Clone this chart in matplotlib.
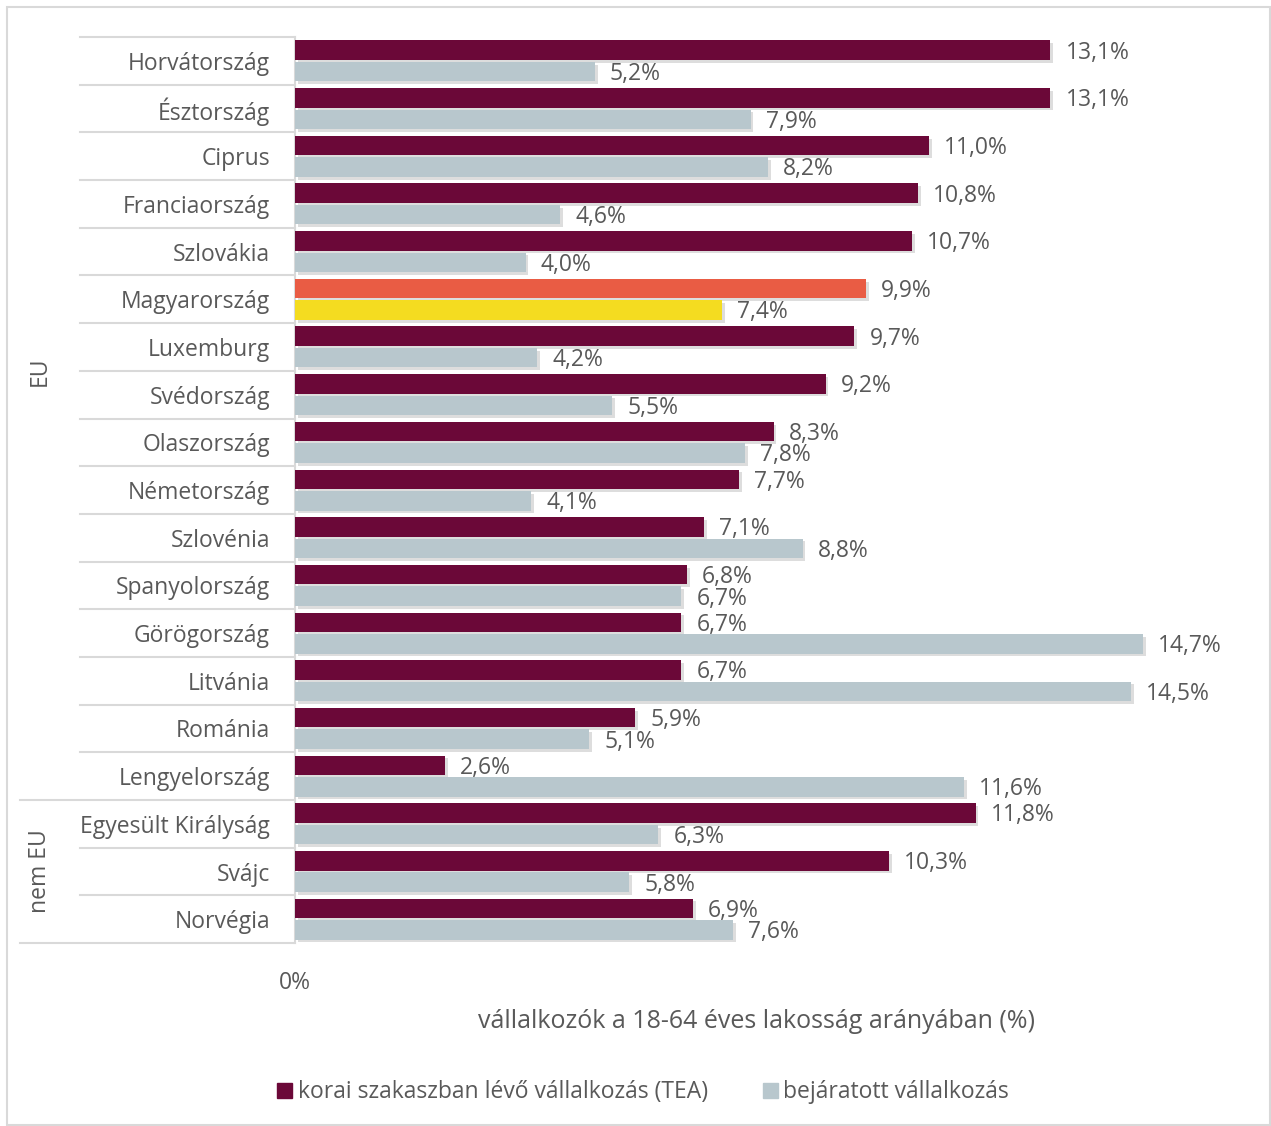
"""Korai szakaszban lévő és bejáratott vállalkozások aránya országonként."""
import matplotlib.pyplot as plt
import matplotlib.patheffects as pe
from matplotlib.patches import Rectangle

# Adatok (felülről lefelé)
countries = ['Horvátország', 'Észtország', 'Ciprus', 'Franciaország',
             'Szlovákia', 'Magyarország', 'Luxemburg', 'Svédország',
             'Olaszország', 'Németország', 'Szlovénia', 'Spanyolország',
             'Görögország', 'Litvánia', 'Románia', 'Lengyelország',
             'Egyesült Királyság', 'Svájc', 'Norvégia']
tea = [13.1, 13.1, 11.0, 10.8, 10.7, 9.9, 9.7, 9.2, 8.3, 7.7, 7.1, 6.8,
       6.7, 6.7, 5.9, 2.6, 11.8, 10.3, 6.9]
established = [5.2, 7.9, 8.2, 4.6, 4.0, 7.4, 4.2, 5.5, 7.8, 4.1, 8.8, 6.7,
               14.7, 14.5, 5.1, 11.6, 6.3, 5.8, 7.6]
groups = [('EU', 0, 15), ('nem EU', 16, 18)]
highlight = 'Magyarország'

series_names = ['korai szakaszban lévő vállalkozás (TEA)',
                'bejáratott vállalkozás']

PURPLE = '#6B0838'
GREY = '#B8C7CD'
ORANGE = '#E95C44'
YELLOW = '#F4DC20'
TEXT = '#595959'
LINE = '#D9D9D9'
FS = 16.5

plt.rcParams['font.family'] = ['Open Sans', 'DejaVu Sans']

fig = plt.figure(figsize=(12.71, 11.26), dpi=100)
ax = fig.add_axes([0.2321, 0.1625, 0.726, 0.8046])

shadow = [pe.SimplePatchShadow(offset=(2, -2), shadow_rgbFace='#909090',
                               alpha=0.3), pe.Normal()]

h = 0.41
for i, name in enumerate(countries):
    c1 = ORANGE if name == highlight else PURPLE
    c2 = YELLOW if name == highlight else GREY
    b1 = ax.barh(i - 0.225, tea[i], height=h, color=c1, zorder=3)
    b2 = ax.barh(i + 0.225, established[i], height=h, color=c2, zorder=3)
    for b in (b1[0], b2[0]):
        b.set_path_effects(shadow)
    ax.text(tea[i] + 0.26, i - 0.175, f'{tea[i]:.1f}%'.replace('.', ','),
            va='center', ha='left', fontsize=FS, color=TEXT)
    ax.text(established[i] + 0.26, i + 0.275,
            f'{established[i]:.1f}%'.replace('.', ','),
            va='center', ha='left', fontsize=FS, color=TEXT)

ax.set_ylim(len(countries) - 0.5, -0.5)
ax.set_xlim(0, 16)
ax.set_yticks(range(len(countries)))
ax.set_yticklabels(countries, fontsize=FS, color=TEXT)
ax.tick_params(axis='y', length=0, pad=18)
ax.set_xticks([0])
ax.set_xticklabels(['0%'], fontsize=FS, color=TEXT)
ax.tick_params(axis='x', length=0, pad=20)
ax.set_xlabel('vállalkozók a 18-64 éves lakosság arányában (%)',
              fontsize=18, color=TEXT, labelpad=10)

for side in ('top', 'right', 'bottom'):
    ax.spines[side].set_visible(False)
ax.spines['left'].set_color(LINE)
ax.spines['left'].set_linewidth(1.5)

# Kategória-elválasztó vonalak a bal oldalon
tr = ax.get_yaxis_transform()
x_inner = (80 - 295) / 923
x_outer = (20 - 295) / 923
ax.plot([x_inner, 0], [-0.5, -0.5], transform=tr, clip_on=False,
        color=LINE, lw=1.5)
for name, start, end in groups:
    for k in range(start, end):
        ax.plot([x_inner, 0], [k + 0.5, k + 0.5], transform=tr,
                clip_on=False, color=LINE, lw=1.5)
    ax.plot([x_outer, 0], [end + 0.5, end + 0.5], transform=tr,
            clip_on=False, color=LINE, lw=1.5)

ax.text((40 - 295) / 923, 6.5, 'EU', transform=tr, rotation=90,
        ha='center', va='center', fontsize=FS, color=TEXT)
ax.text((40 - 295) / 923, 17, 'nem EU', transform=tr, rotation=90,
        ha='center', va='center', fontsize=FS, color=TEXT)

# Jelmagyarázat
handles = [Rectangle((0, 0), 1, 1, color=PURPLE),
           Rectangle((0, 0), 1, 1, color=GREY)]
fig.legend(handles, series_names, loc='center', bbox_to_anchor=(0.506, 0.030),
           ncol=2, frameon=False, fontsize=FS, handlelength=0.65,
           handleheight=0.65, handletextpad=0.25, columnspacing=2.4,
           labelcolor=TEXT)

# Keret a diagram körül
fig.patches.append(Rectangle((7 / 1271, 1 / 1126), 1263 / 1271, 1118 / 1126,
                             transform=fig.transFigure, fill=False,
                             edgecolor=LINE, lw=1.5))

fig.savefig('out.png', dpi=100)
